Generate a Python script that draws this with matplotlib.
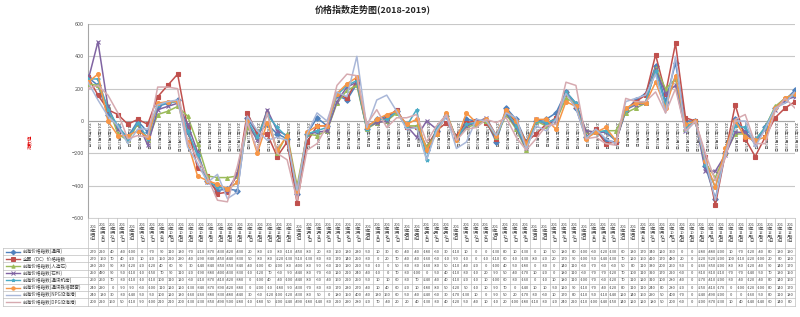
import matplotlib
matplotlib.use('Agg')
import matplotlib.pyplot as plt
import numpy as np

plt.rcParams['font.family'] = ['Noto Sans CJK SC', 'DejaVu Sans']

title = "价格指数走势图(2018-2019)"
y_title = "指数值"

dates = ["2018年8月6日", "2018年8月13日", "2018年8月20日", "2018年8月27日", "2018年9月3日",
         "2018年9月10日", "2018年9月17日", "2018年9月25日", "2018年10月8日", "2018年10月15日",
         "2018年10月22日", "2018年10月29日", "2018年11月5日", "2018年11月12日", "2018年11月19日",
         "2018年11月26日", "2018年12月3日", "2018年12月10日", "2018年12月17日", "2018年12月24日",
         "2018年12月31日", "2019年1月7日", "2019年1月14日", "2019年1月21日", "2019年1月28日",
         "2019年2月11日", "2019年2月18日", "2019年2月25日", "2019年3月4日", "2019年3月11日",
         "2019年3月18日", "2019年3月25日", "2019年4月1日", "2019年4月8日", "2019年4月15日",
         "2019年4月22日", "2019年4月29日", "2019年5月6日", "2019年5月13日", "2019年5月20日",
         "2019年5月27日", "2019年6月3日", "2019年6月10日", "2019年6月17日", "2019年6月24日",
         "2019年7月1日", "2019年7月8日", "2019年7月15日", "2019年7月22日", "2019年7月29日",
         "2019年8月5日", "2019年8月12日", "2019年8月19日", "2019年8月26日", "2019年9月2日",
         "2019年9月9日", "2019年9月16日", "2019年9月23日", "2019年9月30日", "2019年10月7日",
         "2019年10月14日", "2019年10月21日", "2019年10月28日", "2019年11月4日", "2019年11月11日",
         "2019年11月18日", "2019年11月25日", "2019年12月2日", "2019年12月9日", "2019年12月16日",
         "2019年12月23日", "2019年12月30日"]

names = ["前海价格指数(通用)", "全国（DC）价格指数", "前海价格指数(人造石)", "前海价格指数(石料)",
         "前海价格指数(通讯机房)", "前海价格指数(通讯铁塔配套)", "前海价格指数(NPG沿海港)",
         "前海价格指数(DPG沿海港)"]

s1 = [270, 220, 40, -40, -100, 0, -70, 90, 110, 130, -70, -210, -370, -430, -420, -430, 20, -80, -20,
      -80, -110, -450, -80, 20, -30, 160, 130, 230,
      -50, 10, 30, 60, -40, -40, -180, -60, 30, -110, 10, 0, 0, -130, 80, 10, -130, 0,
      10, 50, 180, 80, -100, -60, -120, -130, 60, 130, 170, 340, 120, 360, 0, 0, -280, -480, -200,
      10, -70, -120, -40, 80, 130, 190]
s2 = [270, 160, 70, 40, -20, 10, -20, 150, 220, 290, -40, -290, -340, -450, -440, -330, 50, -80, -80,
      -220, -130, -510, -130, -30, -30, 170, 140, 250,
      -30, 0, 20, 70, -40, -40, -160, -60, -10, -90, -10, 0, -10, -110, 60, -10, -130, -80,
      -20, 20, 170, 90, -100, -50, -140, -130, 70, 120, 160, 410, 170, 480, 20, 0, -220, -520, -200,
      100, -110, -220, -100, 20, 80, 120]
s3 = [230, 220, 90, -80, -120, -20, -120, 40, 60, 90, 30, -140, -340, -350, -350, -340, -40, -100, 60,
      -200, -80, -400, -80, -90, -60, 110, 190, 220,
      -50, -10, 0, 50, -30, -30, -160, -80, 50, -110, -40, -20, 0, -100, 40, -50, -180, 0,
      -30, 0, 140, 110, -60, -70, -60, -60, 50, 80, 110, 330, 200, 260, -50, 0, -260, -350, -200,
      -80, -80, -120, -40, 90, 140, 170]
s4 = [250, 490, 90, -50, -110, -10, -150, 70, 90, 110, -20, -190, -380, -400, -430, -330, -10, -120, 70,
      -60, -90, -440, -80, -70, -60, 120, 210, 240,
      -40, -10, 0, 70, -30, -100, 0, -50, 40, -110, -30, -10, 20, -90, 50, -40, -170, 10,
      -20, 0, 180, 110, -60, -70, -70, -120, 70, 100, 110, 320, 170, 220, -60, 0, -310, -310, -210,
      -70, -70, -140, -50, 70, 130, 150]
s5 = [260, 260, 70, -30, -110, -10, -110, 100, 110, 120, -60, -210, -370, -410, -420, -380, 0, -100, 40,
      -40, -100, -440, -80, -60, -40, 160, 220, 250,
      -50, 10, 10, 60, -30, 70, -240, -40, 40, -110, -20, -10, 10, -100, 60, -30, -160, 0,
      -10, 10, 180, 110, -100, -70, -60, -120, 70, 110, 120, 310, 100, 280, -40, 0, -270, -410, -200,
      -30, -40, -120, -40, 80, 140, 160]
s6 = [240, 290, 0, -90, -90, -60, -100, 110, 120, 120, -130, -340, -370, -390, -420, -380, 0, -200, -10,
      -180, -90, -430, -70, -30, -30, 170, 230, 270,
      -40, 10, 40, 60, -20, 10, -180, -80, 50, -120, 50, -10, 10, -90, 70, 0, -140, 10,
      10, -50, 120, 90, -110, -70, -40, -120, 80, 110, 110, 240, 80, 280, -20, 0, -250, -410, -170,
      0, -100, -120, -100, 80, 140, 170]
s7 = [240, 130, 30, -30, -140, -50, -50, 100, 120, 130, -160, -260, -380, -330, -480, -440, 30, -60, -120,
      -100, -120, -430, -80, 50, 0, 180, 150, 400,
      -40, 130, 160, 60, -50, -40, -240, -60, 30, -170, -130, 10, 0, -90, 50, 20, -170, -30,
      -60, 10, 170, 80, -110, -50, -110, -140, 120, 140, 160, 290, 50, 400, -70, 0, -240, -490, -200,
      0, 0, -160, -50, 80, 110, 180]
s8 = [200, 220, 160, 50, -110, -90, -100, 210, 210, 200, -130, -230, -350, -490, -500, -280, -10, -180, 50,
      -200, -240, -490, -180, -140, -30, 220, 290, 280,
      -20, 70, -40, 20, 20, 40, -130, -30, 40, -120, -50, -40, 10, -10, 20, -100, -180, -110,
      -30, -20, 240, 220, -110, -100, -140, -150, 140, 120, 120, 180, 50, 200, -60, 0, -200, -370, -230,
      10, 40, -140, -140, 60, 140, 80]
series = [s1, s2, s3, s4, s5, s6, s7, s8]

colors = ["#4F81BD", "#C0504D", "#9BBB59", "#8064A2", "#4BACC6", "#F79646", "#A9B7D8", "#D6AAB0"]
markers = ["D", "s", "^", "x", "*", "o", "", ""]

W, H = 800, 317
fig = plt.figure(figsize=(W / 100, H / 100), dpi=100)
L, R, T, B = 88, 795, 24, 218
ax = fig.add_axes([L / W, 1 - B / H, (R - L) / W, (B - T) / H])
N = len(dates)
x = np.arange(N)
ax.set_xlim(0, N - 1)
ax.set_ylim(-600, 600)
ax.set_yticks(np.arange(-600, 601, 200))
ax.tick_params(axis='y', labelsize=4, colors='#595959', length=0, pad=3)
ax.set_xticks([])
ax.grid(axis='y', color='#C8C8C8', lw=0.8)
ax.set_axisbelow(True)
for sp in ['top', 'right', 'bottom']:
    ax.spines[sp].set_visible(False)
ax.spines['left'].set_color('#A6A6A6')
ax.spines['left'].set_linewidth(0.8)
ax.axhline(0, color='#A6A6A6', lw=0.8, zorder=1)

for s, c, m in zip(series, colors, markers):
    ax.plot(x, s, color=c, lw=1.1, marker=m if m else None, ms=2.8, mew=0.8, zorder=3)

for i, d in enumerate(dates):
    ax.text(i, -8, d, rotation=-90, ha='center', va='top', fontsize=2.9, color='#404040', zorder=2)

fig.text(373 / W, 1 - 9 / H, title, ha='center', va='center', fontsize=6.5, fontweight='bold', color='#262626')
fig.text(30 / W, 1 - 142 / H, y_title, ha='center', va='center', fontsize=3.5, color='#E00000', rotation=90)

# data table
tab = fig.add_axes([0, 0, 1, 1], facecolor='none')
tab.set_xlim(0, W)
tab.set_ylim(H, 0)
tab.axis('off')
cw = (R - L) / N
hdr_top, hdr_bot, row_bot = 218, 248, 305.5
rh = (row_bot - hdr_bot) / len(series)
gc = '#BFBFBF'


def wrap(s, lim=1.75):
    lines, cur, w = [], '', 0
    for ch in s:
        cwid = 0.56 if ch.isascii() else 1.0
        if w + cwid > lim and cur:
            lines.append(cur)
            cur, w = '', 0
        cur += ch
        w += cwid
    if cur:
        lines.append(cur)
    return "\n".join(lines)


for j in range(N + 1):
    xx = L + j * cw
    tab.plot([xx, xx], [hdr_top, row_bot], color=gc, lw=0.5)
tab.plot([L, R], [hdr_top, hdr_top], color=gc, lw=0.5)
for k in range(len(series) + 1):
    yy = hdr_bot + k * rh
    tab.plot([3, R], [yy, yy], color=gc, lw=0.5)
tab.plot([3, 3], [hdr_bot, row_bot], color=gc, lw=0.5)
for j, d in enumerate(dates):
    tab.text(L + (j + 0.5) * cw, (hdr_top + hdr_bot) / 2, wrap(d), ha='center', va='center',
             fontsize=3.0, color='#404040', linespacing=1.0)
for k, s in enumerate(series):
    yc = hdr_bot + (k + 0.5) * rh
    for j, v in enumerate(s):
        tab.text(L + (j + 0.5) * cw, yc, str(v), ha='center', va='center', fontsize=2.9, color='#404040')
    tab.plot([6, 20], [yc, yc], color=colors[k], lw=1.0)
    if markers[k]:
        tab.plot([13], [yc], marker=markers[k], color=colors[k], ms=2.4, mew=0.7)
    tab.text(23, yc, names[k], ha='left', va='center', fontsize=3.3, color='#404040')

fig.savefig('out.png', dpi=100)
